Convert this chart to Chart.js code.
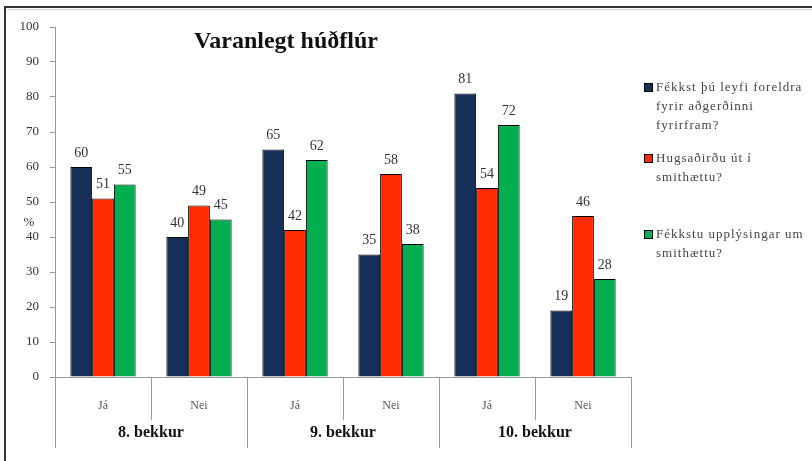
<!DOCTYPE html>
<html>
<head>
<meta charset="utf-8">
<script src="https://cdn.jsdelivr.net/npm/chart.js@4"></script>
<style>
  html, body { margin: 0; padding: 0; background: #fff; }
  #wrap { width: 812px; height: 461px; position: relative; }
</style>
</head>
<body>
<div id="wrap"><canvas id="tattooChart" width="812" height="461"></canvas></div>
<script>
// data
let answers = ["Já", "Nei", "Já", "Nei", "Já", "Nei"];
let grades = ["8. bekkur", "9. bekkur", "10. bekkur"];
let seriesNames = [
    ["Fékkst þú leyfi foreldra", "fyrir aðgerðinni", "fyrirfram?"],
    ["Hugsaðirðu út í", "smithættu?"],
    ["Fékkstu upplýsingar um", "smithættu?"]
];
let permission = [60, 40, 65, 35, 81, 19];
let thoughtRisk = [51, 49, 42, 58, 54, 46];
let gotInfo = [55, 45, 62, 38, 72, 28];
let yTicks = [0, 10, 20, 30, 40, 50, 60, 70, 80, 90, 100];
let chartTitle = "Varanlegt húðflúr";

let colors = ["#17305a", "#ff2a00", "#00b050"];
let serif = "'Liberation Serif', 'DejaVu Serif', serif";

// labels above bars, title, legend, group labels and frame
let extrasPlugin = {
    id: "extras",
    beforeDraw(chart) {
        let ctx = chart.ctx;
        ctx.save();
        ctx.strokeStyle = "#333";
        ctx.lineWidth = 2;
        ctx.beginPath();
        ctx.moveTo(5, chart.height);
        ctx.lineTo(5, 7);
        ctx.lineTo(chart.width, 7);
        ctx.stroke();
        ctx.strokeStyle = "#ccc";
        ctx.lineWidth = 1;
        ctx.beginPath();
        ctx.moveTo(7, 9.5);
        ctx.lineTo(chart.width, 9.5);
        ctx.stroke();
        ctx.restore();
    },
    afterDraw(chart) {
        let ctx = chart.ctx;
        let area = chart.chartArea;
        let x = chart.scales.x;
        ctx.save();

        // values above bars
        ctx.fillStyle = "#333";
        ctx.font = "14px " + serif;
        ctx.textAlign = "center";
        ctx.textBaseline = "bottom";
        chart.data.datasets.forEach((ds, di) => {
            chart.getDatasetMeta(di).data.forEach((bar, i) => {
                ctx.fillText(ds.data[i], bar.x, bar.y - 7);
            });
        });

        // title inside plot
        ctx.fillStyle = "#111";
        ctx.font = "bold 24px " + serif;
        ctx.textBaseline = "middle";
        ctx.fillText(chartTitle, area.left + 231, area.top + 15);

        // "%" axis label
        ctx.font = "13px " + serif;
        ctx.fillStyle = "#333";
        ctx.fillText("%", 29, chart.scales.y.getPixelForValue(44));

        // separators under x axis
        let step = x.getPixelForValue(1) - x.getPixelForValue(0);
        ctx.strokeStyle = "#999";
        ctx.lineWidth = 1;
        for (let i = 0; i <= answers.length; i++) {
            let px = Math.round(x.getPixelForValue(i) - step / 2) + 0.5;
            let len = i % 2 === 0 ? 71 : 43;
            ctx.beginPath();
            ctx.moveTo(px, area.bottom);
            ctx.lineTo(px, area.bottom + len);
            ctx.stroke();
        }

        // grade labels
        ctx.fillStyle = "#111";
        ctx.font = "bold 16px " + serif;
        grades.forEach((g, gi) => {
            let cx = (x.getPixelForValue(gi * 2) + x.getPixelForValue(gi * 2 + 1)) / 2;
            ctx.fillText(g, cx, area.bottom + 56);
        });

        // legend
        let legendTops = [88, 159, 235];
        ctx.textAlign = "left";
        ctx.font = "13px " + serif;
        ctx.letterSpacing = "1px";
        seriesNames.forEach((lines, si) => {
            let top = legendTops[si];
            ctx.fillStyle = colors[si];
            ctx.fillRect(645, top - 4, 7, 7);
            ctx.strokeStyle = "#000";
            ctx.strokeRect(644.5, top - 4.5, 8, 8);
            ctx.fillStyle = "#444";
            lines.forEach((line, li) => {
                ctx.fillText(line, 656, top + li * 19);
            });
        });
        ctx.restore();
    }
};

new Chart(document.getElementById("tattooChart"), {
    type: "bar",
    data: {
        labels: answers,
        datasets: [
            { label: seriesNames[0].join(" "), data: permission, backgroundColor: colors[0] },
            { label: seriesNames[1].join(" "), data: thoughtRisk, backgroundColor: colors[1] },
            { label: seriesNames[2].join(" "), data: gotInfo, backgroundColor: colors[2] }
        ].map(ds => Object.assign(ds, {
            borderColor: "#000",
            borderWidth: 1,
            categoryPercentage: 0.68,
            barPercentage: 1
        }))
    },
    options: {
        responsive: false,
        animation: false,
        layout: { padding: { top: 27, right: 181, left: 0, bottom: 0 } },
        plugins: {
            legend: { display: false },
            title: { display: false },
            tooltip: { enabled: false }
        },
        scales: {
            x: {
                afterFit: (scale) => { scale.height = 84; },
                grid: { display: false },
                border: { display: true, color: "#999" },
                ticks: {
                    color: "#555",
                    font: { family: serif, size: 12 },
                    padding: 14
                }
            },
            y: {
                min: 0,
                max: 100,
                afterFit: (scale) => { scale.width = 55; },
                afterBuildTicks: (scale) => { scale.ticks = yTicks.map(v => ({ value: v })); },
                grid: { drawOnChartArea: false, drawTicks: true, tickLength: 5, color: "#999" },
                border: { display: true, color: "#999" },
                ticks: {
                    color: "#333",
                    font: { family: serif, size: 13 },
                    padding: 11
                }
            }
        }
    },
    plugins: [extrasPlugin]
});
</script>
</body>
</html>
